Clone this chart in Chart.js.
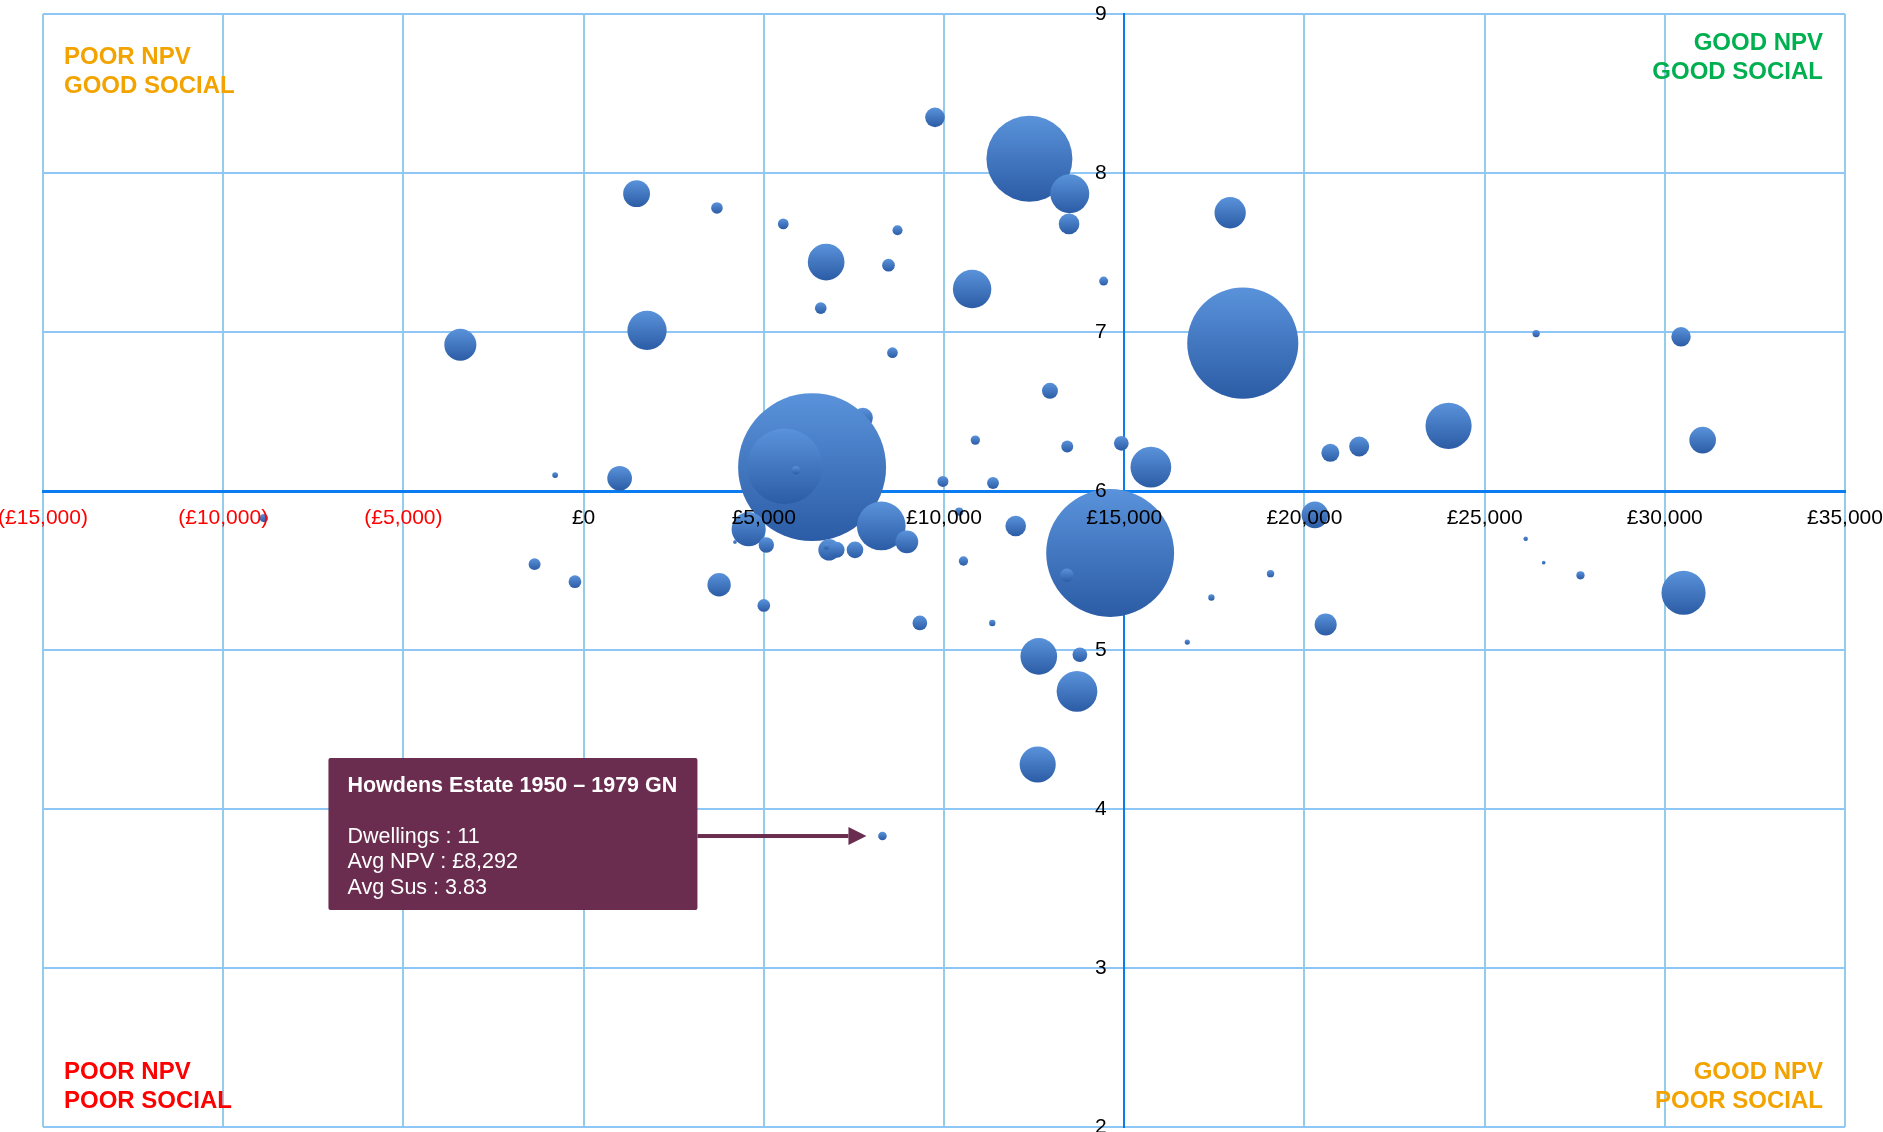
<!DOCTYPE html>
<html>
<head>
<meta charset="utf-8">
<script src="https://cdn.jsdelivr.net/npm/chart.js@4.4.1/dist/chart.umd.min.js"></script>
<style>
    html, body { margin: 0; padding: 0; background: #fff; }
    #contenedor { width: 1883px; height: 1132px; position: relative; }
</style>
</head>
<body>
<div id="contenedor"><canvas id="graficaBurbujas"></canvas></div>
<script>
//1. Datos (orden = orden de dibujo)
const npv = [7750, 6340, 5580, 5890, 12370, 14610, 13410, 18290,
    -8870, -3420, -1360, -790, -240, 1000, 1470, 1760, 3700, 3760, 4200, 4580,
    5000, 5070, 5540, 6580, 6730, 6810, 6740, 7020, 7530, 8260, 8292, 8460,
    8570, 8710, 8970, 9330, 9750, 9970, 10420, 10540, 10780, 10870, 11340, 11360,
    11990, 12600, 12630, 12940, 13420, 13470, 13490, 13690, 13770, 14430, 14920, 15740,
    16750, 17420, 17940, 19060, 20290, 20590, 20720, 21520, 24000, 26140, 26430, 26640,
    27660, 30450, 30520, 31050];
const sus = [6.46, 6.15, 6.155, 6.13, 8.09, 5.61, 5.47, 6.93,
    5.83, 6.92, 5.54, 6.10, 5.43, 6.08, 7.87, 7.01, 7.78, 5.41, 5.68, 5.76,
    5.28, 5.66, 7.68, 7.15, 7.44, 5.63, 5.65, 5.63, 5.63, 5.78, 3.83, 7.42,
    6.87, 7.64, 5.68, 5.17, 8.35, 6.06, 5.87, 5.56, 7.27, 6.32, 5.17, 6.05,
    5.78, 4.28, 4.96, 6.63, 6.28, 7.68, 7.87, 4.74, 4.97, 7.32, 6.30, 6.15,
    5.05, 5.33, 7.75, 5.48, 5.85, 5.16, 6.24, 6.28, 6.41, 5.70, 6.99, 5.55,
    5.47, 6.97, 5.36, 6.32];
const viviendas = [59, 3238, 845, 10, 1094, 2420, 27, 1825,
    10, 152, 21, 5, 24, 90, 107, 228, 20, 81, 2, 172,
    24, 35, 17, 20, 199, 68, 5, 38, 41, 351, 11, 24,
    17, 15, 76, 32, 57, 18, 10, 13, 219, 13, 6, 21,
    63, 193, 199, 38, 21, 63, 224, 245, 32, 12, 32, 245,
    4, 6, 145, 8, 105, 72, 48, 59, 315, 3, 8, 2,
    10, 56, 288, 105];

//Punto señalado con la caja
const destacado = { nombre: "Howdens Estate 1950 – 1979 GN", indice: 30 };

//Textos de los cuadrantes
const cuadrantes = [
    { lineas: ["POOR NPV", "GOOD SOCIAL"], color: "#F2A300", lado: "izq", arriba: true },
    { lineas: ["GOOD NPV", "GOOD SOCIAL"], color: "#00B050", lado: "der", arriba: true },
    { lineas: ["POOR NPV", "POOR SOCIAL"], color: "#FF0000", lado: "izq", arriba: false },
    { lineas: ["GOOD NPV", "POOR SOCIAL"], color: "#F2A300", lado: "der", arriba: false }
];

const FUENTE = "'Liberation Sans', Arial, sans-serif";
Chart.defaults.font.family = FUENTE;

//Radio de la burbuja: area proporcional a las viviendas
const radio = (v) => 1.3 * Math.sqrt(v);

function libras(v) {
    const s = "£" + Math.abs(v).toLocaleString("en-GB");
    return v < 0 ? "(" + s + ")" : s;
}

const puntos = npv.map((x, i) => ({ x: x, y: sus[i], r: radio(viviendas[i]) }));

//Degradado vertical de cada burbuja
function colorBurbuja(c) {
    const chart = c.chart;
    if (!chart.chartArea || !c.raw) return "#4477C0";
    const y = chart.scales.y.getPixelForValue(c.raw.y);
    const r = c.raw.r || 1;
    const g = chart.ctx.createLinearGradient(0, y - r, 0, y + r);
    g.addColorStop(0, "#5A93DB");
    g.addColorStop(1, "#2B5CA5");
    return g;
}

//Textos de cuadrantes y caja del punto destacado
const pluginEtiquetas = {
    id: "etiquetas",
    afterDraw(chart) {
        const ctx = chart.ctx;
        const area = chart.chartArea;
        ctx.save();
        ctx.font = "bold 24px " + FUENTE;
        ctx.textBaseline = "middle";
        cuadrantes.forEach((q) => {
            ctx.fillStyle = q.color;
            ctx.textAlign = q.lado === "izq" ? "left" : "right";
            const x = q.lado === "izq" ? area.left + 21 : area.right - 22;
            let y0;
            if (q.arriba) y0 = q.lado === "izq" ? area.top + 43 : area.top + 29;
            else y0 = area.bottom - 55;
            q.lineas.forEach((t, k) => ctx.fillText(t, x, y0 + k * 29));
        });

        //Caja
        const i = destacado.indice;
        const px = chart.scales.x.getPixelForValue(npv[i]);
        const py = chart.scales.y.getPixelForValue(sus[i]);
        const color = "#6A2D4F";
        const bx = px - 554, by = py - 78, bw = 369, bh = 152;
        ctx.fillStyle = color;
        ctx.beginPath();
        ctx.roundRect(bx, by, bw, bh, 2);
        ctx.fill();

        //Flecha
        const x0 = bx + bw, punta = px - 16;
        ctx.fillRect(x0, py - 2, punta - 18 - x0, 4);
        ctx.beginPath();
        ctx.moveTo(punta - 18, py - 9);
        ctx.lineTo(punta, py);
        ctx.lineTo(punta - 18, py + 9);
        ctx.closePath();
        ctx.fill();

        ctx.fillStyle = "#FFFFFF";
        ctx.textAlign = "left";
        ctx.font = "bold 21.5px " + FUENTE;
        ctx.fillText(destacado.nombre, bx + 19, by + 28);
        ctx.font = "21.5px " + FUENTE;
        ctx.fillText("Dwellings : " + viviendas[i], bx + 19, by + 79);
        ctx.fillText("Avg NPV : " + libras(npv[i]), bx + 19, by + 104);
        ctx.fillText("Avg Sus : " + sus[i].toFixed(2), bx + 19, by + 130);
        ctx.restore();
    }
};

//2. Creamos la grafica
const grafica = new Chart(document.getElementById("graficaBurbujas"), {
    type: "bubble",
    data: {
        datasets: [{
            data: puntos,
            backgroundColor: colorBurbuja,
            borderWidth: 0,
            hoverBorderWidth: 0,
            clip: false
        }]
    },
    options: {
        responsive: true,
        maintainAspectRatio: false,
        animation: false,
        events: [],
        layout: { autoPadding: false, padding: { left: 43, right: 38, top: 14, bottom: 5 } },
        plugins: {
            legend: { display: false },
            tooltip: { enabled: false }
        },
        scales: {
            x: {
                type: "linear",
                position: { y: 6 },
                min: -15000,
                max: 35000,
                grid: { color: "#93CDE7", lineWidth: 2, tickColor: "rgba(0,0,0,0)", tickLength: 12 },
                border: { color: "#0A7CF2", width: 3 },
                ticks: {
                    stepSize: 5000,
                    autoSkip: false,
                    maxRotation: 0,
                    z: 1,
                    font: { size: 21 },
                    color: (c) => (c.tick && c.tick.value < 0 ? "#FF0000" : "#000000"),
                    callback: (v) => libras(v)
                },
                afterFit: (s) => { s.height = 0; s.paddingLeft = 0; s.paddingRight = 0; }
            },
            y: {
                type: "linear",
                position: { x: 15000 },
                min: 2,
                max: 9,
                grid: { color: "#8EC7F6", lineWidth: 2, tickColor: "rgba(0,0,0,0)" },
                border: { color: "#0A7CF2", width: 2 },
                ticks: {
                    stepSize: 1,
                    z: 1,
                    font: { size: 21 },
                    color: "#000000",
                    callback: (v) => v + "   "
                },
                afterFit: (s) => { s.width = 0; s.paddingTop = 0; s.paddingBottom = 0; }
            }
        }
    },
    plugins: [pluginEtiquetas]
});
</script>
</body>
</html>
